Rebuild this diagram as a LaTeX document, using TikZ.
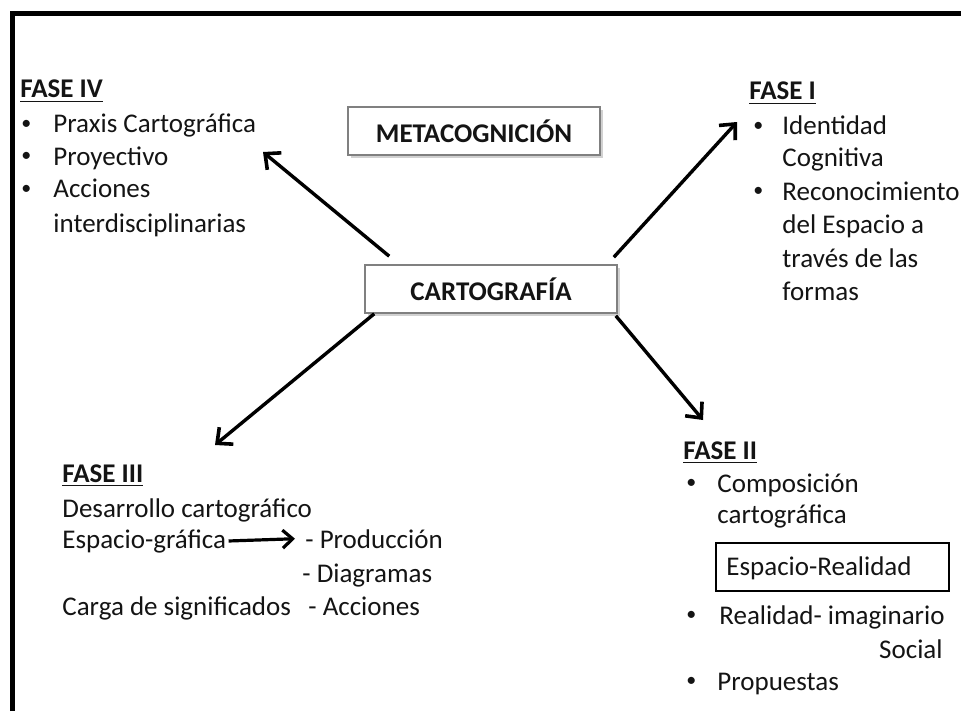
\documentclass[tikz,border=0pt]{standalone}
\usepackage{fontspec}
\setmainfont{Carlito}
\usetikzlibrary{arrows.meta,shadows}
\begin{document}
\begin{tikzpicture}[x=0.5pt,y=-0.5pt,
 txt/.style={anchor=base west,inner sep=0pt,font=\fontsize{13.5}{16.5}\selectfont,text=black!92},
 head/.style={txt,font=\fontsize{13.5}{16.5}\selectfont\bfseries},
 rtxt/.style={txt,anchor=base east},
 bul/.style={anchor=base west,inner sep=0pt,font=\fontsize{10}{12}\selectfont,text=black!92},
 mainbox/.style={draw=black!50,line width=0.8pt,fill=white,minimum width=126pt,minimum height=24pt,inner sep=0pt,
   font=\fontsize{13.5}{16.5}\selectfont\bfseries,text=black!92,
   drop shadow={shadow xshift=1.5pt,shadow yshift=-1.5pt,opacity=0.3,fill=black!60}},
 smallbox/.style={draw=black,line width=0.6pt,minimum width=116.5pt,minimum height=24pt,inner sep=0pt},
 arr/.style={line width=1.7pt,-{Straight Barb[length=6pt,width=11pt,line width=1.8pt]}},
 sarr/.style={line width=1.6pt,-{Straight Barb[length=5pt,width=9pt,line width=1.6pt]}}
]
\useasboundingbox (0,0) rectangle (961,711);
% frame
\draw[line width=2.6pt] (12.5,711) -- (12.5,13.5) -- (961,13.5);

% central boxes
\node[mainbox] (meta) at (474,131) {METACOGNICIÓN};
\node[mainbox] (carto) at (491,289) {CARTOGRAFÍA};

% FASE IV
\node[head] (h4) at (20,98) {\underline{FASE IV}};
\node[bul] (b4a) at (21,133) {\raisebox{1.6pt}{•}};
\node[bul] (b4b) at (21,165) {\raisebox{1.6pt}{•}};
\node[bul] (b4c) at (21,198) {\raisebox{1.6pt}{•}};
\node[txt] (t4a) at (53,133) {Praxis Cartográfica};
\node[txt] (t4b) at (53,165) {Proyectivo};
\node[txt] (t4c) at (53,198) {Acciones};
\node[txt] (t4d) at (53,232) {interdisciplinarias};

% FASE I
\node[head] (h1) at (749,100) {\underline{FASE I}};
\node[bul] (b1a) at (753,135) {\raisebox{1.6pt}{•}};
\node[bul] (b1b) at (753,200) {\raisebox{1.6pt}{•}};
\node[txt] (t1a) at (782,135) {Identidad};
\node[txt] (t1b) at (782,167) {Cognitiva};
\node[txt] (t1c) at (782,200) {Reconocimiento};
\node[txt] (t1d) at (782,233) {del Espacio a};
\node[txt] (t1e) at (782,267) {través de las};
\node[txt] (t1f) at (782,300) {formas};

% FASE III
\node[head] (h3) at (62,482) {\underline{FASE III}};
\node[txt] (t3a) at (62,517) {Desarrollo cartográfico};
\node[txt] (t3b) at (62,548) {Espacio-gráfica};
\node[txt] (t3c) at (305,548) {- Producción};
\node[txt] (t3d) at (302,582) {- Diagramas};
\node[txt] (t3e) at (62,615) {Carga de significados};
\node[txt] (t3f) at (308,615) {- Acciones};
\draw[sarr] ([xshift=1pt]t3b.east) -- ([xshift=-5pt]t3c.west);

% FASE II
\node[head] (h2) at (683,459) {\underline{FASE II}};
\node[bul] (b2a) at (686,492) {\raisebox{1.6pt}{•}};
\node[bul] (b2b) at (686,624) {\raisebox{1.6pt}{•}};
\node[bul] (b2c) at (686,690) {\raisebox{1.6pt}{•}};
\node[txt] (t2a) at (717,492) {Composición};
\node[txt] (t2b) at (717,523) {cartográfica};
\node[smallbox] (er) at (832.5,567) {};
\node[txt] (t2c) at (726,575) {Espacio-Realidad};
\node[txt] (t2d) at (719,624) {Realidad- imaginario};
\node[rtxt] (t2e) at (943,658) {Social};
\node[txt] (t2f) at (717,690) {Propuestas};

% arrow tips
\coordinate (tipIV) at (263,152);
\coordinate (tipI) at (737,122);
\coordinate (tipIII) at (215,445);
\coordinate (tipII) at (703,420);

\draw[arr] ([shift={(25,-8)}]carto.north west) -- (tipIV);
\draw[arr] ([shift={(-4,-7)}]carto.north east) -- (tipI);
\draw[arr] ([shift={(10,0)}]carto.south west) -- (tipIII);
\draw[arr] ([shift={(-2,2)}]carto.south east) -- (tipII);
\end{tikzpicture}
\end{document}
